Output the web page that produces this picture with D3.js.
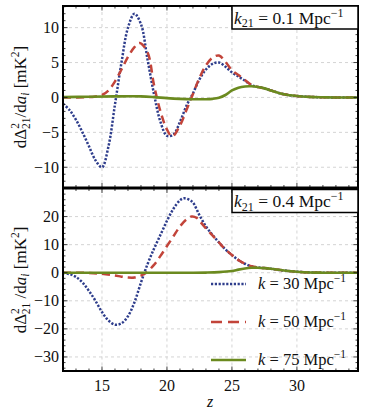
<!DOCTYPE html>
<html><head><meta charset="utf-8">
<script src="https://cdn.jsdelivr.net/npm/d3@7"></script>
<style>
body{margin:0;background:#fff;}
text{font-family:"Liberation Serif","DejaVu Serif",serif;fill:#111;}
</style></head>
<body><svg id="c" width="382" height="419"></svg>
<script>
// ---------- data ----------
const seriesNames = ["k = 30", "k = 50", "k = 75"];
const panelLabels = ["0.1", "0.4"];
const xTicks = [15, 20, 25, 30];
const yTicksTop = [-10, -5, 0, 5, 10];
const yTicksBottom = [-30, -20, -10, 0, 10, 20];

// top panel (k21 = 0.1)
const topK30z = [12,12.5,13,13.5,14,14.5,15,15.5,16,16.5,17,17.5,18,18.5,19,19.5,20,20.5,21,21.5,22,22.5,23,23.5,24,24.5,25,25.5,26,26.5,27,27.5,28,28.5,29,30,31,32,33,34.7];
const topK30v = [-0.9,-1.8,-3.2,-5.0,-7.0,-9.0,-10.0,-7.0,-1.0,5.0,10.0,12.0,10.5,5.5,0.5,-3.5,-5.5,-5.3,-3.5,-1.2,0.6,2.6,4.0,4.8,5.0,4.4,3.6,3.0,2.4,1.75,1.5,1.3,1.0,0.7,0.45,0.2,0.08,0.03,0,0];
const topK50z = [12,13,14,14.5,15,15.5,16,16.5,17,17.5,17.9,18.5,19,19.5,20,20.4,21,21.5,22,22.5,23,23.5,24,24.5,25,25.5,26,26.5,27,27.5,28,28.5,29,30,31,32,33,34.7];
const topK50v = [0,0,0.05,0.15,0.35,1.0,2.3,4.0,5.8,7.2,7.8,6.5,1.8,-2.0,-4.6,-5.6,-4.0,-1.8,0.5,2.8,4.6,5.7,6.0,5.1,3.9,3.2,2.5,1.8,1.5,1.3,1.0,0.7,0.45,0.2,0.08,0.03,0,0];
const topK75z = [12,14,16,18,19,20,21,22,23,23.5,24,24.5,25,25.5,26,26.5,27,27.5,28,28.5,29,30,31,32,33,34.7];
const topK75v = [0.05,0.1,0.15,0.15,0.05,-0.1,-0.2,-0.25,-0.25,-0.2,-0.05,0.35,1.0,1.4,1.58,1.6,1.5,1.3,1.0,0.7,0.45,0.2,0.08,0.03,0,0];

// bottom panel (k21 = 0.4)
const botK30z = [12,12.5,13,13.5,14,14.5,15,15.5,16,16.5,17,17.5,18,18.5,19,19.5,20,20.5,21,21.3,21.7,22,22.5,23,23.5,24,24.5,25,25.5,26,26.5,27,27.5,28,29,30,31,32,34.7];
const botK30v = [0,-0.5,-1.5,-3.5,-6.5,-10,-14,-17,-18.5,-18,-15.5,-10.5,-3.5,3,8.5,13.5,18.5,22.8,25.8,26.5,26,25,20.5,16.5,13.5,10.8,8.3,6.3,4.5,3.2,2.3,1.85,1.65,1.4,0.8,0.35,0.1,0.02,0];
const botK50z = [12,13,14,15,16,16.5,17,17.5,18,18.4,19,19.5,20,20.5,21,21.5,21.9,22.3,22.5,23,23.5,24,24.5,25,25.5,26,26.5,27,27.5,28,29,30,31,32,34.7];
const botK50v = [0,0,-0.1,-0.4,-1.0,-1.4,-1.7,-1.7,-1.0,0,2.8,6,9.5,13,16.5,19,20,19.5,18.5,15.8,13.3,10.8,8.3,6.3,4.5,3.2,2.3,1.85,1.65,1.4,0.8,0.35,0.1,0.02,0];
const botK75z = [12,16,20,22,23,24,25,25.5,26,26.5,27,27.5,28,29,30,31,32,34.7];
const botK75v = [0,0,0,0,0.05,0.2,0.6,1.1,1.5,1.75,1.8,1.65,1.4,0.8,0.35,0.1,0.02,0];

// ---------- drawing ----------
const svg = d3.select("#c");
const X0 = 63, X1 = 358;
const x = d3.scaleLinear().domain([12, 34.7]).range([X0, X1]);
const colors = ["#2e3d8c", "#c2443a", "#6b8a1f"];
const dashes = ["2.2,1.6", "8,5", null];

const panels = [
  {y0: 6, y1: 187.5, domain: [-12.9, 13.1], ticks: yTicksTop, minor: 1, label: panelLabels[0], labY: 97,
   series: [[topK30z, topK30v], [topK50z, topK50v], [topK75z, topK75v]]},
  {y0: 188.5, y1: 371, domain: [-35, 30], ticks: yTicksBottom, minor: 2, label: panelLabels[1], labY: 280,
   series: [[botK30z, botK30v], [botK50z, botK50v], [botK75z, botK75v]]}
];

const defs = svg.append("defs");
panels.forEach((p, pi) => {
  const y = d3.scaleLinear().domain(p.domain).range([p.y1, p.y0]);
  defs.append("clipPath").attr("id", "clip" + pi).append("rect")
    .attr("x", X0).attr("y", p.y0).attr("width", X1 - X0).attr("height", p.y1 - p.y0);
  const g = svg.append("g");
  // grid
  g.selectAll(".gx").data(xTicks).join("line")
    .attr("x1", d => x(d)).attr("x2", d => x(d)).attr("y1", p.y0).attr("y2", p.y1)
    .attr("stroke", "#cfcfcf").attr("stroke-width", 0.9).attr("stroke-dasharray", "3,3");
  g.selectAll(".gy").data(p.ticks).join("line")
    .attr("x1", X0).attr("x2", X1).attr("y1", d => y(d)).attr("y2", d => y(d))
    .attr("stroke", "#cfcfcf").attr("stroke-width", 0.9).attr("stroke-dasharray", "3,3");
  const line = d3.line().x(d => x(d[0])).y(d => y(d[1])).curve(d3.curveCatmullRom.alpha(0.5));
  [0, 1, 2].forEach(si => {
    const [zs, vs] = p.series[si];
    const pts = zs.map((z, i) => [z, vs[i]]);
    g.append("path").attr("d", line(pts)).attr("clip-path", `url(#clip${pi})`)
      .attr("fill", "none").attr("stroke", colors[si]).attr("stroke-width", si === 2 ? 2.6 : 2.5)
      .attr("stroke-dasharray", dashes[si]);
  });
  // ticks (inward, all sides)
  const xMinor = d3.range(12, 35, 1);
  const yMinor = d3.range(Math.ceil(p.domain[0] / p.minor) * p.minor, p.domain[1], p.minor);
  const tk = g.append("g").attr("stroke", "#111").attr("stroke-width", 0.8);
  xMinor.forEach(v => {
    const L = xTicks.includes(v) ? 4.5 : 2.5;
    tk.append("line").attr("x1", x(v)).attr("x2", x(v)).attr("y1", p.y1).attr("y2", p.y1 - L);
    tk.append("line").attr("x1", x(v)).attr("x2", x(v)).attr("y1", p.y0).attr("y2", p.y0 + L);
  });
  yMinor.forEach(v => {
    const L = p.ticks.includes(v) ? 4.5 : 2.5;
    tk.append("line").attr("x1", X0).attr("x2", X0 + L).attr("y1", y(v)).attr("y2", y(v));
    tk.append("line").attr("x1", X1).attr("x2", X1 - L).attr("y1", y(v)).attr("y2", y(v));
  });
  // y tick labels
  g.selectAll(".yl").data(p.ticks).join("text")
    .attr("x", 59).attr("y", d => y(d)).attr("dy", "0.34em").attr("text-anchor", "end")
    .attr("font-size", 16).text(d => d < 0 ? "\u2212" + Math.abs(d) : d);
  // frame
  g.append("rect").attr("x", X0).attr("y", p.y0).attr("width", X1 - X0).attr("height", p.y1 - p.y0)
    .attr("fill", "none").attr("stroke", "#000").attr("stroke-width", 2);
  // annotation box
  const bx = 232, by = p.y0 + (pi === 0 ? 0 : 1), bh = 23;
  g.append("rect").attr("x", bx).attr("y", by).attr("width", X1 - bx).attr("height", bh)
    .attr("fill", "#fff").attr("stroke", "#000").attr("stroke-width", 1.5);
  const t = g.append("text").attr("x", 234).attr("y", by + 17.5).attr("font-size", 17.5);
  t.append("tspan").attr("font-style", "italic").text("k");
  t.append("tspan").attr("font-size", 12).attr("dy", 3.5).text("21");
  t.append("tspan").attr("dy", -3.5).text(" = " + p.label + " Mpc");
  t.append("tspan").attr("font-size", 12).attr("dy", -7).text("\u22121");
  // y axis label
  const yl = g.append("text").attr("transform", `translate(26,${p.labY}) rotate(-90)`)
    .attr("text-anchor", "middle").attr("font-size", 17);
  yl.append("tspan").text("d\u0394");
  yl.append("tspan").attr("font-size", 11.5).attr("dy", -7).text("2");
  yl.append("tspan").attr("font-size", 11.5).attr("dx", -6).attr("dy", 11).text("21");
  yl.append("tspan").attr("dy", -4).text(pi === 0 ? "/d" : " /d");
  yl.append("tspan").attr("font-style", "italic").text("a");
  yl.append("tspan").attr("font-style", "italic").attr("font-size", 11.5).attr("dy", 3).text("i");
  yl.append("tspan").attr("dy", -3).text(" [mK");
  yl.append("tspan").attr("font-size", 11.5).attr("dy", -7).text("2");
  yl.append("tspan").attr("dy", 7).text("]");
});

// x tick labels
svg.selectAll(".xl").data(xTicks).join("text")
  .attr("x", d => x(d)).attr("y", 391).attr("text-anchor", "middle").attr("font-size", 16).text(d => d);
svg.append("text").attr("x", 210).attr("y", 407).attr("text-anchor", "middle")
  .attr("font-size", 16).attr("font-style", "italic").text("z");

// legend
const legVals = ["30", "50", "75"];
const legY = [284, 322, 360];
seriesNames.forEach((n, i) => {
  svg.append("line").attr("x1", 211).attr("x2", 246).attr("y1", legY[i]).attr("y2", legY[i])
    .attr("stroke", colors[i]).attr("stroke-width", 2.5).attr("stroke-dasharray", i === 1 ? "11,6" : dashes[i]);
  const t = svg.append("text").attr("x", 258).attr("y", legY[i] + 5).attr("font-size", 16.5);
  t.append("tspan").attr("font-style", "italic").text("k");
  t.append("tspan").text(" = " + legVals[i] + " Mpc");
  t.append("tspan").attr("font-size", 11.5).attr("dy", -7).text("\u22121");
});
</script></body></html>
